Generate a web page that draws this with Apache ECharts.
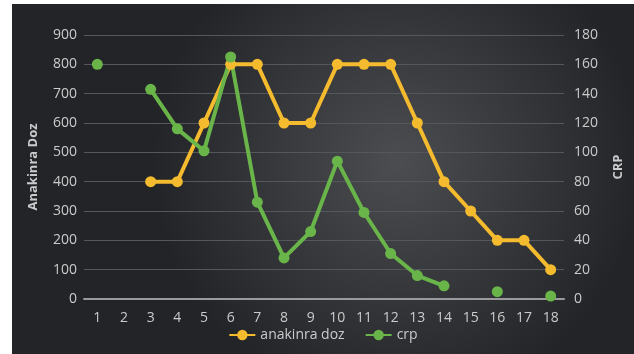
<!DOCTYPE html>
<html>
<head>
<meta charset="utf-8">
<script src="https://cdn.jsdelivr.net/npm/echarts@6/dist/echarts.min.js"></script>
<style>
html, body { margin: 0; padding: 0; background: #fff; }
#chart { position: absolute; left: 12px; top: 4px; width: 622px; height: 350px; }
</style>
</head>
<body>
<div id="chart"></div>
<script>
var days = ['1','2','3','4','5','6','7','8','9','10','11','12','13','14','15','16','17','18'];
var anakinraDoz = [null, null, 400, 400, 600, 800, 800, 600, 600, 800, 800, 800, 600, 400, 300, 200, 200, 100];
var crp = [160, null, 143, 116, 101, 165, 66, 28, 46, 94, 59, 31, 16, 9, null, 5, null, 2];

var myChart = echarts.init(document.getElementById('chart'));
var labelColor = '#cbcbcb';
var font = '"Open Sans", sans-serif';

myChart.setOption({
    backgroundColor: new echarts.graphic.RadialGradient(0.62, 0.45, 0.7, [
        { offset: 0, color: '#4b4d51' },
        { offset: 1, color: '#222428' }
    ]),
    animation: false,
    grid: { left: 72, right: 70, top: 31, bottom: 55 },
    legend: {
        bottom: 7,
        itemGap: 20,
        itemWidth: 26,
        itemHeight: 13,
        textStyle: { color: labelColor, fontSize: 14, fontFamily: font },
        data: ['anakinra doz', 'crp']
    },
    xAxis: {
        type: 'category',
        data: days,
        boundaryGap: true,
        axisLine: { lineStyle: { color: '#9a9a9a', width: 2 } },
        axisTick: { show: false },
        axisLabel: { color: labelColor, fontSize: 14, fontFamily: font, margin: 12 }
    },
    yAxis: [{
        type: 'value',
        min: 0, max: 900, interval: 100,
        name: 'Anakinra Doz',
        nameLocation: 'middle',
        nameRotate: 90,
        nameGap: 44,
        nameTextStyle: { color: labelColor, fontSize: 13, fontWeight: 'bold', fontFamily: font },
        axisLine: { show: false },
        axisTick: { show: false },
        axisLabel: { color: labelColor, fontSize: 14, fontFamily: font, margin: 7 },
        splitLine: { lineStyle: { color: '#54575b', width: 1 } }
    }, {
        type: 'value',
        min: 0, max: 180, interval: 20,
        name: 'CRP',
        nameLocation: 'middle',
        nameRotate: 90,
        nameGap: 48,
        nameTextStyle: { color: labelColor, fontSize: 13, fontWeight: 'bold', fontFamily: font },
        axisLine: { show: false },
        axisTick: { show: false },
        axisLabel: { color: labelColor, fontSize: 14, fontFamily: font, margin: 10 },
        splitLine: { show: false }
    }],
    series: [{
        name: 'anakinra doz',
        type: 'line',
        yAxisIndex: 0,
        data: anakinraDoz,
        symbol: 'circle',
        symbolSize: 11,
        lineStyle: { color: '#f5bb2f', width: 4 },
        itemStyle: { color: '#f5bb2f' }
    }, {
        name: 'crp',
        type: 'line',
        yAxisIndex: 1,
        data: crp,
        symbol: 'circle',
        symbolSize: 11,
        lineStyle: { color: '#6ab54a', width: 4 },
        itemStyle: { color: '#6ab54a' }
    }]
});
</script>
</body>
</html>
